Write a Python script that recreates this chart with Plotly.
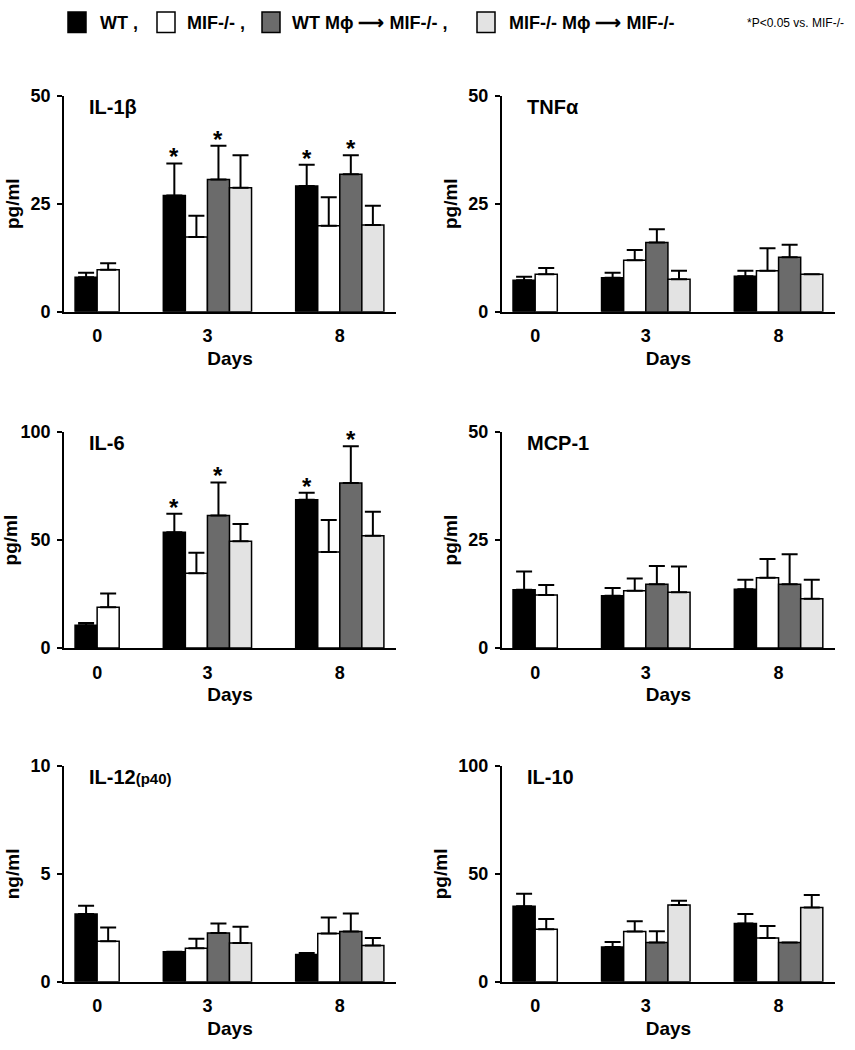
import plotly.graph_objects as go

# ---------------- data ----------------
days = ["0", "3", "8"]
series_names = ["WT ,", "MIF-/- ,", "WT Mϕ ⟶ MIF-/- ,", "MIF-/- Mϕ ⟶ MIF-/-"]
series_colors = ["#000000", "#ffffff", "#6b6b6b", "#e3e3e3"]

# rows = series (WT, MIF-/-, WT Mϕ→MIF-/-, MIF-/- Mϕ→MIF-/-), columns = day 0, 3, 8
il1b_mean = [[8.0, 26.9, 29.1], [9.7, 17.3, 19.9], [None, 30.6, 31.8], [None, 28.7, 20.1]]
il1b_err = [[1.0, 7.4, 4.9], [1.5, 4.9, 6.6], [None, 7.8, 4.4], [None, 7.5, 4.4]]
il1b_sig = [[0, 1, 1], [0, 0, 0], [0, 1, 1], [0, 0, 0]]

tnfa_mean = [[7.3, 7.9, 8.2], [8.7, 11.9, 9.5], [None, 16.0, 12.6], [None, 7.5, 8.7]]
tnfa_err = [[0.8, 1.1, 1.3], [1.4, 2.4, 5.2], [None, 3.1, 2.9], [None, 2.0, 0.0]]
tnfa_sig = [[0, 0, 0], [0, 0, 0], [0, 0, 0], [0, 0, 0]]

il6_mean = [[10.6, 53.6, 68.7], [18.9, 34.6, 44.5], [None, 61.4, 76.4], [None, 49.5, 52.0]]
il6_err = [[1.0, 8.6, 3.2], [6.4, 9.5, 14.8], [None, 15.3, 17.1], [None, 8.0, 11.1]]
il6_sig = [[0, 1, 1], [0, 0, 0], [0, 1, 1], [0, 0, 0]]

mcp1_mean = [[13.5, 12.1, 13.6], [12.3, 13.3, 16.3], [None, 14.8, 14.8], [None, 12.9, 11.4]]
mcp1_err = [[4.2, 1.8, 2.2], [2.3, 2.8, 4.3], [None, 4.2, 6.9], [None, 6.0, 4.4]]
mcp1_sig = [[0, 0, 0], [0, 0, 0], [0, 0, 0], [0, 0, 0]]

il12_mean = [[3.14, 1.39, 1.27], [1.88, 1.55, 2.24], [None, 2.26, 2.33], [None, 1.80, 1.68]]
il12_err = [[0.39, 0.0, 0.06], [0.64, 0.44, 0.74], [None, 0.44, 0.83], [None, 0.75, 0.35]]
il12_sig = [[0, 0, 0], [0, 0, 0], [0, 0, 0], [0, 0, 0]]

il10_mean = [[35.0, 16.1, 27.0], [24.4, 23.3, 20.3], [None, 18.2, 18.2], [None, 35.6, 34.4]]
il10_err = [[5.8, 2.3, 4.4], [4.7, 4.8, 5.6], [None, 5.2, 0.0], [None, 2.0, 5.8]]
il10_sig = [[0, 0, 0], [0, 0, 0], [0, 0, 0], [0, 0, 0]]

panel_titles = ["IL-1β", "TNFα", "IL-6", "MCP-1",
                "IL-12<span style='font-size:15px'>(p40)</span>", "IL-10"]
panel_units = ["pg/ml", "pg/ml", "pg/ml", "pg/ml", "ng/ml", "pg/ml"]
panel_ymax = [50, 50, 100, 50, 10, 100]
panel_means = [il1b_mean, tnfa_mean, il6_mean, mcp1_mean, il12_mean, il10_mean]
panel_errs = [il1b_err, tnfa_err, il6_err, mcp1_err, il12_err, il10_err]
panel_sigs = [il1b_sig, tnfa_sig, il6_sig, mcp1_sig, il12_sig, il10_sig]
footnote = "*P<0.05 vs. MIF-/-"

# ---------------- layout geometry ----------------
W, H = 855, 1050
FONT = "Liberation Sans, Arial, sans-serif"
col_dom = [[0.0749, 0.4632], [0.5871, 0.9766]]
row_dom = [[0.7070, 0.9169], [0.3805, 0.5902], [0.0565, 0.2660]]
GAP = 2  # empty bar slots between day groups

# custom legend geometry (pixels)
leg_box_x = [68, 157, 262, 477]
leg_text_x = [98, 185, 290, 507]
leg_box_w, leg_y0, leg_y1, leg_text_y = 18, 2, 23, 13

fig = go.Figure()
annotations = []
shapes = []

for p in range(6):
    n = p + 1
    xa = "x" if n == 1 else f"x{n}"
    ya = "y" if n == 1 else f"y{n}"
    means, errs, sigs = panel_means[p], panel_errs[p], panel_sigs[p]

    # bar slot layout: consecutive bars per day, GAP slots between days
    starts, centers = [], []
    cur = 0
    for d in range(len(days)):
        nb = sum(1 for s in range(len(series_names)) if means[s][d] is not None)
        starts.append(cur)
        centers.append(cur + nb / 2)
        cur += nb + GAP
    total = cur - GAP

    for s in range(len(series_names)):
        xs, ys, es = [], [], []
        for d in range(len(days)):
            if means[s][d] is None:
                continue
            idx = sum(1 for k in range(s) if means[k][d] is not None)
            xpos = starts[d] + idx + 0.5
            xs.append(xpos)
            ys.append(means[s][d])
            es.append(errs[s][d])
            if sigs[s][d]:
                annotations.append(dict(
                    x=xpos, y=means[s][d] + errs[s][d], xref=xa, yref=ya,
                    text="*", showarrow=False, yanchor="bottom", yshift=-9,
                    font=dict(family=FONT, size=24, color="black", weight="bold")))
        fig.add_trace(go.Bar(
            x=xs, y=ys, width=1.0, name=series_names[s],
            marker=dict(color=series_colors[s], line=dict(color="black", width=1.5)),
            error_y=dict(type="data", array=es, arrayminus=[0] * len(es),
                         symmetric=False, color="black", thickness=2, width=8),
            xaxis=xa, yaxis=ya, showlegend=False))

    r, c = divmod(p, 2)
    ymax = panel_ymax[p]
    fig.layout[("xaxis" if n == 1 else f"xaxis{n}")] = dict(
        domain=col_dom[c], anchor=ya, range=[-0.5, total + 0.55],
        showline=True, linecolor="black", linewidth=2, ticks="",
        tickvals=centers, ticktext=days, ticklabelstandoff=7,
        tickfont=dict(family=FONT, size=18, color="black", weight="bold"),
        showgrid=False, zeroline=False,
        title=dict(text="Days", standoff=6,
                   font=dict(family=FONT, size=19, color="black", weight="bold")))
    fig.layout[("yaxis" if n == 1 else f"yaxis{n}")] = dict(
        domain=row_dom[r], anchor=xa, range=[0, ymax],
        tickvals=[0, ymax / 2, ymax], ticks="outside", ticklen=5, tickwidth=2,
        tickcolor="black", showline=True, linecolor="black", linewidth=2,
        ticklabelstandoff=3,
        tickfont=dict(family=FONT, size=18, color="black", weight="bold"),
        showgrid=False, zeroline=False,
        title=dict(text=panel_units[p], standoff=6,
                   font=dict(family=FONT, size=19, color="black", weight="bold")))

    annotations.append(dict(
        x=0, y=1, xref=f"{xa} domain", yref=f"{ya} domain", xshift=23, yshift=-11,
        text=panel_titles[p], showarrow=False, xanchor="left", yanchor="middle",
        font=dict(family=FONT, size=20, color="black", weight="bold")))

# legend (custom, to reproduce the tall swatches of the original)
for s in range(len(series_names)):
    shapes.append(dict(
        type="rect", xref="paper", yref="paper",
        x0=leg_box_x[s] / W, x1=(leg_box_x[s] + leg_box_w) / W,
        y0=1 - leg_y1 / H, y1=1 - leg_y0 / H,
        fillcolor=series_colors[s], line=dict(color="black", width=1.5)))
    annotations.append(dict(
        x=leg_text_x[s] / W, y=1 - leg_text_y / H, xref="paper", yref="paper",
        text=series_names[s], showarrow=False, xanchor="left", yanchor="middle",
        font=dict(family=FONT, size=18, color="black", weight="bold")))

annotations.append(dict(
    x=745 / W, y=1 - leg_text_y / H, xref="paper", yref="paper",
    text=footnote, showarrow=False, xanchor="left", yanchor="middle",
    font=dict(family=FONT, size=12, color="black")))

fig.update_layout(
    width=W, height=H,
    margin=dict(l=0, r=0, t=0, b=0),
    paper_bgcolor="white", plot_bgcolor="white",
    barmode="overlay",
    annotations=annotations,
    shapes=shapes,
    showlegend=False,
    font=dict(family=FONT, color="black"),
)

post = (
    "var gd=document.getElementById('{plot_id}');"
    "gd.style.position='fixed';gd.style.top='0px';gd.style.left='0px';"
    "document.body.style.margin='0';document.body.style.overflow='hidden';"
    "document.documentElement.style.overflow='hidden';"
)
fig.write_html("out.html", config={"displayModeBar": False}, post_script=post)
